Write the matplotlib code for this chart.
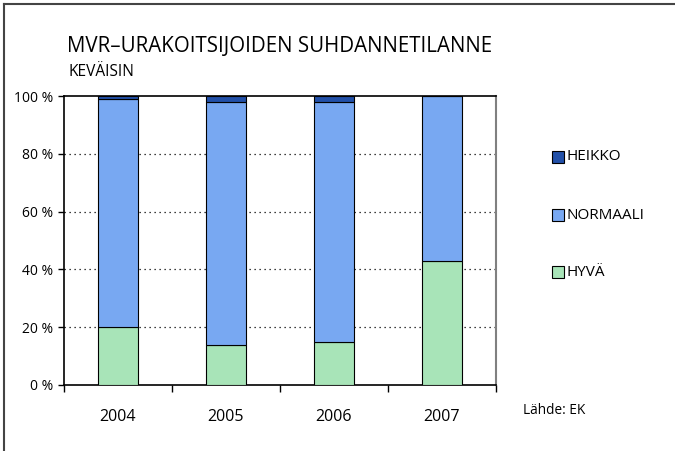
import matplotlib
matplotlib.use("Agg")
import matplotlib.pyplot as plt
from matplotlib.patches import Rectangle
from matplotlib.lines import Line2D
import numpy as np

years = ["2004", "2005", "2006", "2007"]
hyva = [20, 14, 15, 43]
normaali = [79, 84, 83, 57]
heikko = [1, 2, 2, 0]
series_names = ["HEIKKO", "NORMAALI", "HYVÄ"]
colors = {"HYVÄ": "#A8E4B8", "NORMAALI": "#78A8F2", "HEIKKO": "#2250A8"}
yticks = [0, 20, 40, 60, 80, 100]

plt.rcParams['font.family'] = ['Open Sans', 'DejaVu Sans']

W, H = 675, 451
fig = plt.figure(figsize=(W/100, H/100), dpi=100)

# border lines (top and left)
fig.add_artist(Line2D([4/W, 1], [1-4/H, 1-4/H], color="#444444", lw=1.5, transform=fig.transFigure))
fig.add_artist(Line2D([4/W, 4/W], [0, 1-4/H], color="#444444", lw=1.5, transform=fig.transFigure))

ax = fig.add_axes([64/W, 1-385/H, (496-64)/W, (385-96)/H])
x = np.arange(len(years))
bw = 0.37
ax.bar(x, hyva, bw, color=colors["HYVÄ"], edgecolor="black", lw=0.8, zorder=3)
ax.bar(x, normaali, bw, bottom=hyva, color=colors["NORMAALI"], edgecolor="black", lw=0.8, zorder=3)
bottom2 = [a + b for a, b in zip(hyva, normaali)]
ax.bar(x, heikko, bw, bottom=bottom2, color=colors["HEIKKO"], edgecolor="black", lw=0.8, zorder=3)

ax.set_xlim(-0.5, len(years) - 0.5)
ax.set_ylim(0, 100)
ax.set_yticks(yticks)
ax.set_yticklabels([f"{v} %" for v in yticks], fontsize=10)
ax.set_xticks(np.arange(len(years) + 1) - 0.5)
ax.set_xticklabels([])
ax.set_xticks(x, minor=True)
ax.set_xticklabels(years, minor=True, fontsize=11.5)
ax.tick_params(axis="x", which="minor", length=0, pad=17)
ax.tick_params(axis="x", which="major", length=5, direction="out", width=1)
ax.tick_params(axis="y", length=4, direction="out", width=1, pad=4)
for v in yticks[1:-1]:
    ax.axhline(v, color="black", lw=0.9, ls=(0, (1, 3)), zorder=1)
ax.spines["top"].set_color("black")
ax.spines["top"].set_linewidth(1.2)
ax.spines["right"].set_color("#808080")
ax.spines["right"].set_linewidth(1.5)
ax.spines["left"].set_linewidth(1.2)
ax.spines["bottom"].set_linewidth(1.2)

fig.text(67/W, 1-47/H, "MVR–URAKOITSIJOIDEN SUHDANNETILANNE", fontsize=14.8, va="center", ha="left")
fig.text(68/W, 1-72/H, "KEVÄISIN", fontsize=11.2, va="center", ha="left")
fig.text(523/W, 1-411/H, "Lähde: EK", fontsize=9.8, va="center", ha="left")

leg_items = [("HEIKKO", 157), ("NORMAALI", 215), ("HYVÄ", 272)]
for name, yy in leg_items:
    fig.add_artist(Rectangle((552/W, 1-(yy+6)/H), 12/W, 12/H, facecolor=colors[name],
                             edgecolor="black", lw=0.8, transform=fig.transFigure))
    fig.text(567/W, 1-yy/H, name, fontsize=11, va="center", ha="left")

fig.savefig("out.png", dpi=100, facecolor="white")
